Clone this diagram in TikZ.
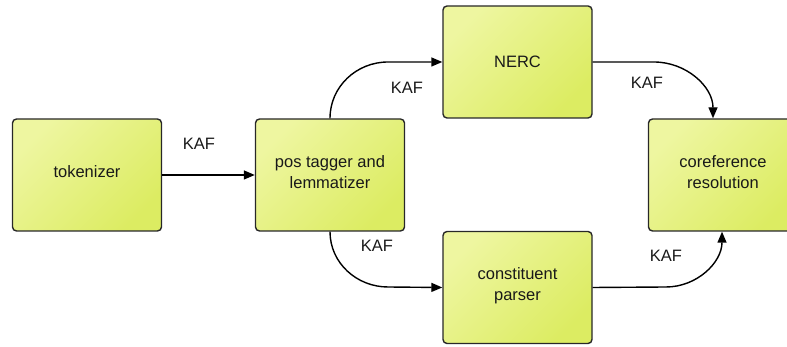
\documentclass[tikz,border=0pt]{standalone}
\usepackage{fontspec}
\setmainfont{Liberation Sans}
\usetikzlibrary{arrows.meta}
\definecolor{boxtop}{RGB}{238,246,160}
\definecolor{boxbot}{RGB}{220,236,98}
\definecolor{boxline}{RGB}{40,40,40}
\definecolor{txt}{RGB}{25,25,25}
\tikzset{
  procbox/.style={draw=boxline, line width=1.4pt, rounded corners=4pt,
    top color=boxtop, bottom color=boxbot, shading angle=45,
    minimum width=149pt, minimum height=112pt, inner sep=0pt,
    align=center, text=txt, font=\fontsize{16.5}{21}\selectfont, text depth=6pt},
  conn/.style={draw=black, line width=1.4pt, -{Triangle[length=11pt,width=9pt]}},
  lbl/.style={text=txt, font=\fontsize{16.5}{19}\selectfont, inner sep=0pt}
}
\begin{document}
\begin{tikzpicture}[x=1pt,y=1pt]
\useasboundingbox (0,0) rectangle (787,347);
\node[procbox] (tok) at (87,172) {tokenizer};
\node[procbox] (pos) at (330,172) {pos tagger and\\lemmatizer};
\node[procbox, text depth=0pt] (nerc) at (517.5,285) {NERC};
\node[procbox] (cons) at (517.5,59.5) {constituent\\parser};
\node[procbox] (coref) at (723,172) {coreference\\resolution};
\coordinate (c1) at (388,285);
\coordinate (c2) at (388,60);
\coordinate (c3) at (654,285);
\coordinate (c4) at (666,60);
\draw[conn] (tok.east) -- (pos.west);
\draw[conn] (pos.north) to[out=90,in=180] (c1) -- (nerc.west);
\draw[conn] (pos.south) to[out=-90,in=180] (c2) -- (cons.west);
\draw[conn] (nerc.east) -- (c3) to[out=0,in=90] ([xshift=-10pt]coref.north);
\draw[conn] (cons.east) -- (c4) to[out=0,in=-90] ([xshift=-1pt]coref.south);
\node[lbl] (k1) at (199,203) {KAF};
\node[lbl] (k2) at (407,259) {KAF};
\node[lbl] (k3) at (377,101) {KAF};
\node[lbl] (k4) at (647,264) {KAF};
\node[lbl] (k5) at (666,91) {KAF};
\end{tikzpicture}
\end{document}
